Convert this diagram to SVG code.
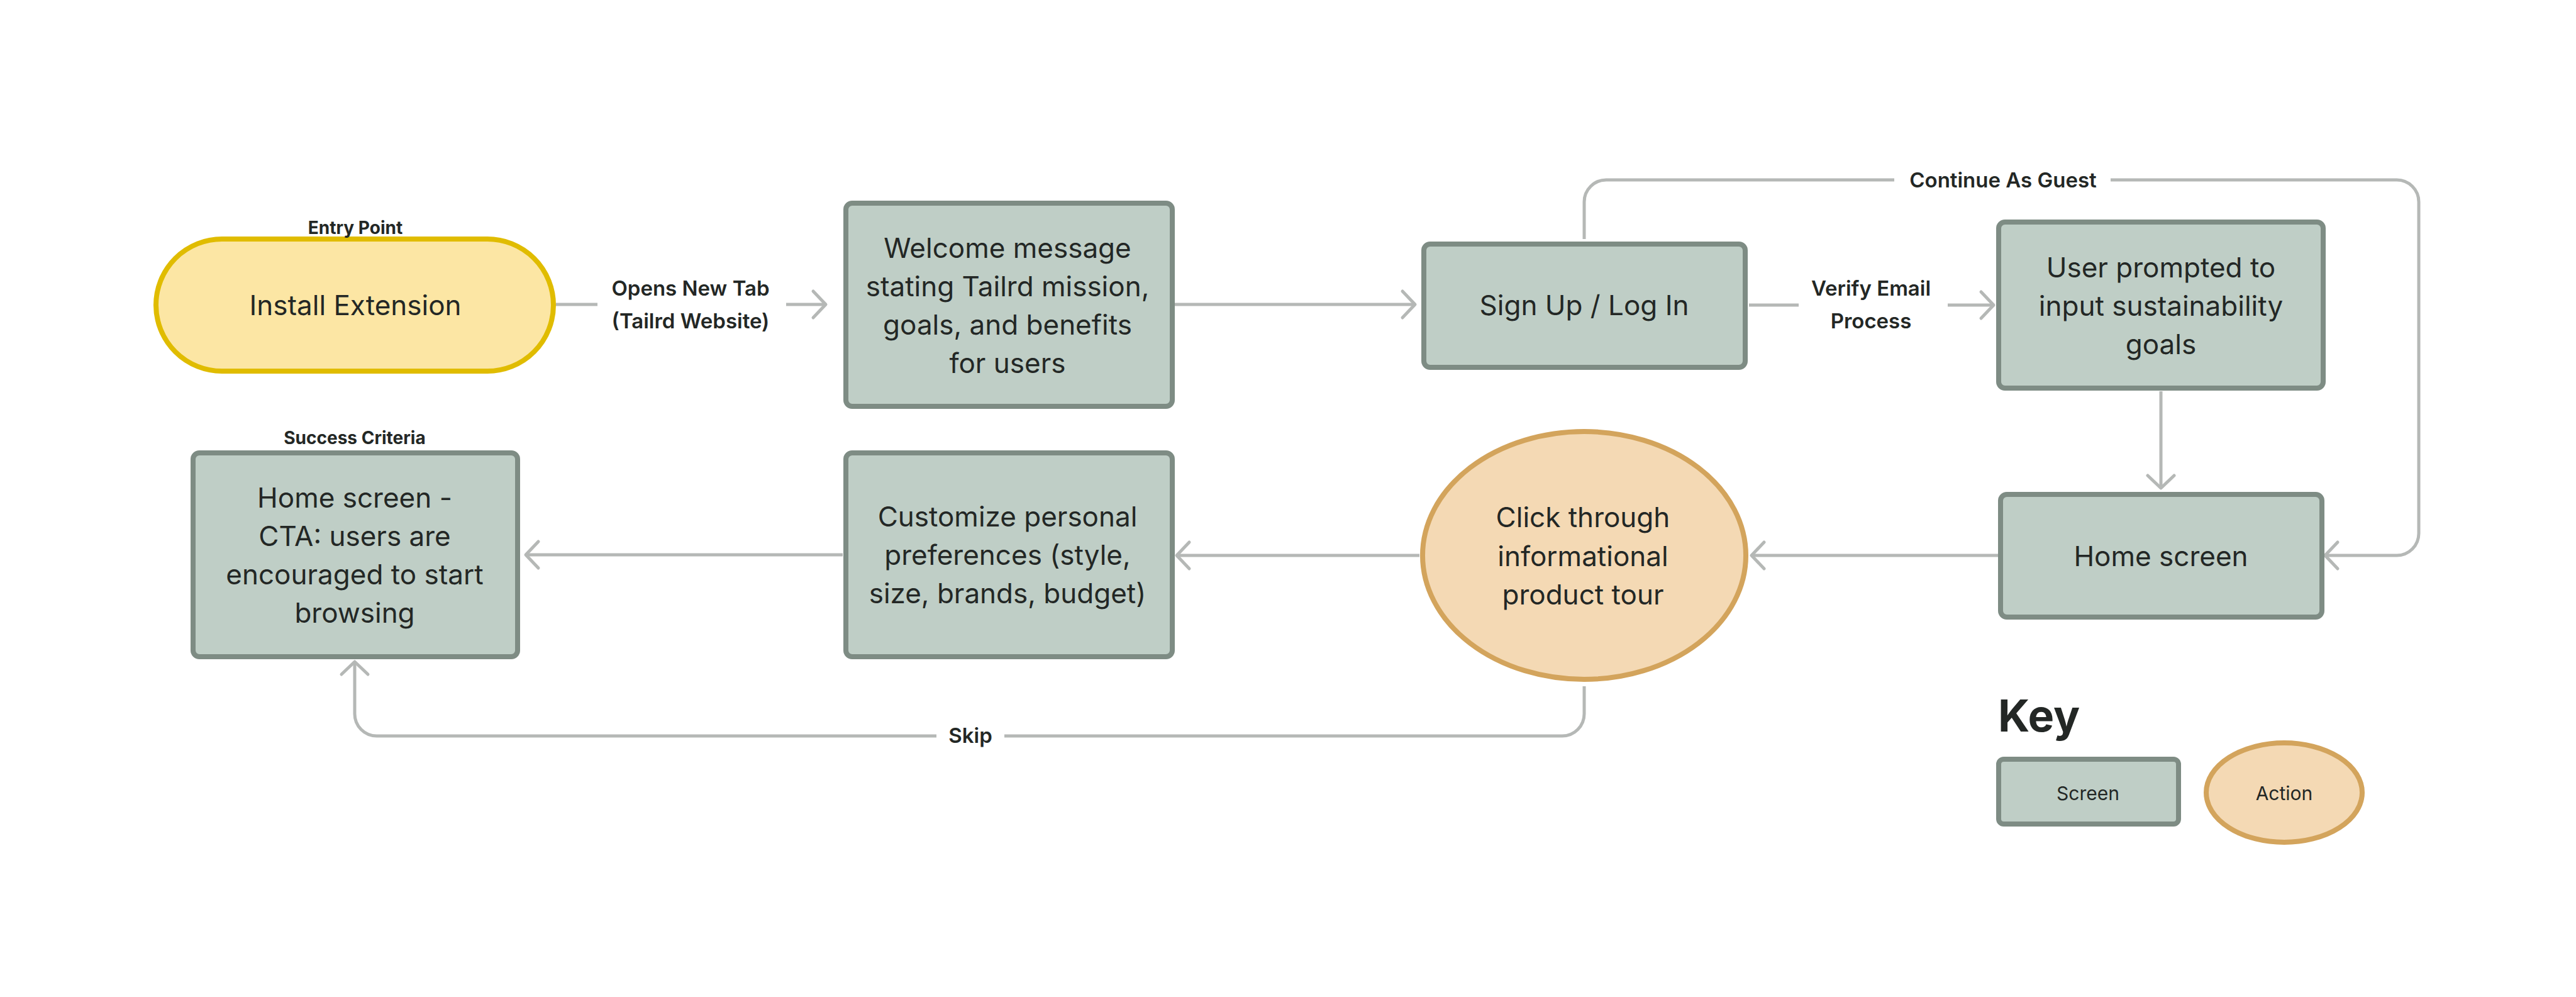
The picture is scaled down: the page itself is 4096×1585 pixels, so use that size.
<svg xmlns="http://www.w3.org/2000/svg" width="4096" height="1585" viewBox="0 0 4096 1585">
<defs>
<style>
.screen{fill:#BFCEC6;stroke:#7E8C84;stroke-width:8}
.action{fill:#F4D9B4;stroke:#D3A45C;stroke-width:8}
.entry{fill:#FCE6A4;stroke:#E0BC00;stroke-width:8}
.t{font-family:Inter,"Liberation Sans",sans-serif;font-size:44px;fill:#232725;text-anchor:middle}
.lbl{font-family:Inter,"Liberation Sans",sans-serif;font-size:33px;font-weight:600;fill:#232725;text-anchor:middle}
.cap{font-family:Inter,"Liberation Sans",sans-serif;font-size:28px;font-weight:700;fill:#232725;text-anchor:middle}
.key{font-family:Inter,"Liberation Sans",sans-serif;font-size:30px;fill:#232725;text-anchor:middle}
.conn{fill:none;stroke:#B5B8B6;stroke-width:5;marker-end:url(#arr)}
</style>
<marker id="arr" markerUnits="userSpaceOnUse" viewBox="-30 -30 40 60" refX="0" refY="0" markerWidth="40" markerHeight="60" orient="auto" overflow="visible">
<path d="M -20 -21 L 0 0 L -20 21" fill="none" stroke="#B5B8B6" stroke-width="5" stroke-linecap="round" stroke-linejoin="round"/>
</marker>
</defs>
<rect width="4096" height="1585" fill="#FFFFFF"/>

<g id="connectors">
<path class="conn" d="M 884 484 H 950 M 1250 484 H 1313"/>
<path class="conn" d="M 1868 484 H 2250"/>
<path class="conn" d="M 2781 485 H 2860 M 3097 485 H 3170"/>
<path class="conn" d="M 2519 380 V 321 A 35 35 0 0 1 2554 286 H 3012 M 3356 286 H 3811 A 35 35 0 0 1 3846 321 V 848 A 35 35 0 0 1 3811 883 H 3697"/>
<path class="conn" d="M 3436 622 V 776"/>
<path class="conn" d="M 3177 883 H 2785"/>
<path class="conn" d="M 2257 883 H 1871"/>
<path class="conn" d="M 1340 882 H 836"/>
<path class="conn" d="M 2519 1091 V 1135 A 35 35 0 0 1 2484 1170 H 1597 M 1489 1170 H 599 A 35 35 0 0 1 564 1135 V 1052"/>
<text class="lbl" x="1098" y="470">Opens New Tab</text>
<text class="lbl" x="1098" y="522">(Tailrd Website)</text>
<text class="lbl" x="2975" y="470">Verify Email</text>
<text class="lbl" x="2975" y="522">Process</text>
<text class="lbl" x="3185" y="298">Continue As Guest</text>
<text class="lbl" x="1543" y="1181">Skip</text>
</g>

<g id="install">
<rect class="entry" x="248" y="380" width="632" height="210" rx="105" ry="105"/>
<text class="cap" x="565" y="372">Entry Point</text>
<text class="t" x="565" y="501">Install Extension</text>
</g>

<g id="welcome">
<rect class="screen" x="1345" y="323" width="519" height="323" rx="10"/>
<text class="t" x="1602" y="410">Welcome message</text>
<text class="t" x="1602" y="471">stating Tailrd mission,</text>
<text class="t" x="1602" y="532">goals, and benefits</text>
<text class="t" x="1602" y="593">for users</text>
</g>

<g id="signup">
<rect class="screen" x="2264" y="388" width="511" height="196" rx="10"/>
<text class="t" x="2519" y="501">Sign Up / Log In</text>
</g>

<g id="goals">
<rect class="screen" x="3178" y="353" width="516" height="264" rx="10"/>
<text class="t" x="3436" y="441">User prompted to</text>
<text class="t" x="3436" y="502">input sustainability</text>
<text class="t" x="3436" y="563">goals</text>
</g>

<g id="home">
<rect class="screen" x="3181" y="786" width="511" height="195" rx="10"/>
<text class="t" x="3436" y="900">Home screen</text>
</g>

<g id="tour">
<ellipse class="action" cx="2519" cy="883" rx="257" ry="197"/>
<text class="t" x="2517" y="838">Click through</text>
<text class="t" x="2517" y="900">informational</text>
<text class="t" x="2517" y="961">product tour</text>
</g>

<g id="customize">
<rect class="screen" x="1345" y="720" width="519" height="324" rx="10"/>
<text class="t" x="1602" y="837">Customize personal</text>
<text class="t" x="1602" y="898">preferences (style,</text>
<text class="t" x="1602" y="959">size, brands, budget)</text>
</g>

<g id="success">
<rect class="screen" x="307" y="720" width="516" height="324" rx="10"/>
<text class="cap" x="564" y="706">Success Criteria</text>
<text class="t" x="564" y="807">Home screen -</text>
<text class="t" x="564" y="868">CTA: users are</text>
<text class="t" x="564" y="929">encouraged to start</text>
<text class="t" x="564" y="990">browsing</text>
</g>

<g id="legend">
<text x="3177" y="1163" font-family="Inter,'Liberation Sans',sans-serif" font-size="70" font-weight="700" fill="#232725">Key</text>
<g id="key-screen">
<rect class="screen" x="3178" y="1207" width="286" height="103" rx="8"/>
<text class="key" x="3320" y="1272">Screen</text>
</g>
<g id="key-action">
<ellipse class="action" cx="3632" cy="1260" rx="124" ry="79"/>
<text class="key" x="3632" y="1272">Action</text>
</g>
</g>
</svg>
